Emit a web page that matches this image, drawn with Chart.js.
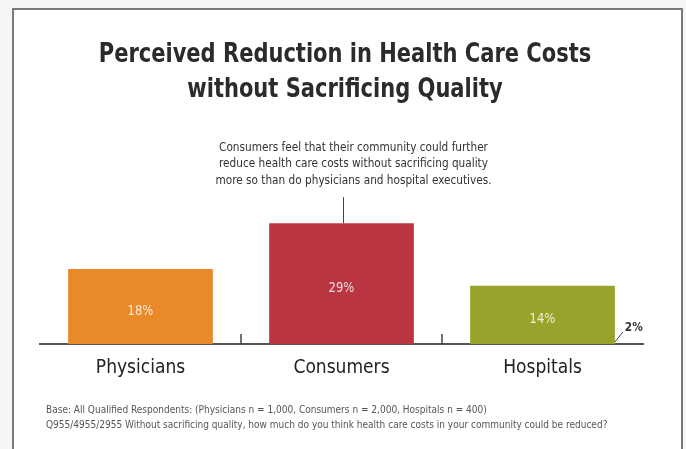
<!DOCTYPE html>
<html>
<head>
<meta charset="utf-8">
<title>Perceived Reduction in Health Care Costs</title>
<script src="https://cdn.jsdelivr.net/npm/chart.js@4.4.1/dist/chart.umd.min.js"></script>
<style>
    html, body { margin: 0; padding: 0; }
    body {
        width: 686px;
        height: 449px;
        position: relative;
        overflow: hidden;
        background: #f6f6f6;
        font-family: "DejaVu Sans Condensed", "DejaVu Sans", sans-serif;
    }
    .frame {
        position: absolute;
        left: 12px;
        top: 8px;
        width: 667px;
        height: 470px;
        background: #fff;
        border: 2px solid #7a7a7a;
    }
    #chart { position: absolute; left: 0; top: 0; }
    h1 {
        position: absolute;
        left: 0;
        top: 35px;
        width: 690px;
        margin: 0;
        text-align: center;
        font-size: 27px;
        line-height: 35px;
        font-weight: bold;
        color: #2b2b2b;
        transform: scaleX(0.865);
        transform-origin: 345px 0;
    }
    .notes {
        position: absolute;
        left: 46px;
        top: 402px;
        font-size: 11px;
        line-height: 15px;
        color: #555;
        white-space: nowrap;
        transform: scaleX(0.91);
        transform-origin: 0 0;
    }
</style>
</head>
<body>
<div class="frame"></div>
<canvas id="chart" width="686" height="449"></canvas>
<h1>Perceived Reduction in Health Care Costs<br>without Sacrificing Quality</h1>
<div class="notes">
    Base: All Qualified Respondents: (Physicians n = 1,000, Consumers n = 2,000, Hospitals n = 400)<br>
    Q955/4955/2955 Without sacrificing quality, how much do you think health care costs in your community could be reduced?
</div>
<script>
const categories = ['Physicians', 'Consumers', 'Hospitals'];
const reduction = [18, 29, 14];
const barColors = ['#e8892a', '#b93542', '#97a32a'];
const yRange = [0, 30];

const calloutLines = [
    'Consumers feel that their community could further',
    'reduce health care costs without sacrificing quality',
    'more so than do physicians and hospital executives.'
];
const hospitalRemainder = 2;

const FONT = '"DejaVu Sans Condensed", "DejaVu Sans", sans-serif';

// text squeezed a little horizontally, to look like a narrow face
function narrowText(ctx, text, x, y, sx) {
    ctx.save();
    ctx.translate(x, y);
    ctx.scale(sx, 1);
    ctx.fillText(text, 0, 0);
    ctx.restore();
}

// percent labels, separators, callout and the small remainder note
const decorations = {
    id: 'decorations',
    afterDatasetsDraw(chart) {
        const ctx = chart.ctx;
        const bars = chart.getDatasetMeta(0).data;
        const x = chart.scales.x;
        const base = chart.chartArea.bottom;

        ctx.save();
        ctx.textAlign = 'center';
        ctx.textBaseline = 'middle';
        ctx.font = '14px ' + FONT;
        ctx.fillStyle = 'rgba(255, 255, 255, 0.82)';
        bars.forEach((bar, i) => {
            narrowText(ctx, reduction[i] + '%', bar.x, (bar.y + bar.base) / 2 + 5, 0.92);
        });

        // small ticks between categories
        ctx.strokeStyle = '#444';
        ctx.lineWidth = 1.5;
        for (let i = 0; i < categories.length - 1; i++) {
            const mid = (x.getPixelForValue(i) + x.getPixelForValue(i + 1)) / 2;
            ctx.beginPath();
            ctx.moveTo(mid, base);
            ctx.lineTo(mid, base - 10);
            ctx.stroke();
        }

        // callout above the consumers bar
        const top = bars[1];
        const leaderTop = top.y - 26;
        ctx.lineWidth = 1;
        ctx.beginPath();
        ctx.moveTo(top.x + 2, top.y);
        ctx.lineTo(top.x + 2, leaderTop);
        ctx.stroke();

        ctx.font = '13px ' + FONT;
        ctx.fillStyle = '#333';
        calloutLines.forEach((line, i) => {
            narrowText(ctx, line, top.x + 12, leaderTop - 50 + i * 16.5, 0.9);
        });

        // remainder note next to hospitals
        const h = bars[2];
        const right = h.x + h.width / 2;
        ctx.beginPath();
        ctx.moveTo(right, base - 2);
        ctx.lineTo(right + 8, base - 12);
        ctx.stroke();
        ctx.textAlign = 'left';
        ctx.font = 'bold 13px ' + FONT;
        narrowText(ctx, hospitalRemainder + '%', right + 10, base - 16, 0.9);
        ctx.restore();
    }
};

new Chart(document.getElementById('chart'), {
    type: 'bar',
    data: {
        labels: categories,
        datasets: [{
            data: reduction,
            backgroundColor: barColors,
            borderWidth: 0,
            categoryPercentage: 1,
            barPercentage: 0.72
        }]
    },
    options: {
        responsive: false,
        animation: false,
        events: [],
        layout: { padding: { top: 219, left: 40, right: 43, bottom: 0 } },
        plugins: {
            legend: { display: false },
            tooltip: { enabled: false }
        },
        scales: {
            x: {
                grid: { display: false, drawTicks: false },
                border: { display: true, color: '#555', width: 2 },
                ticks: {
                    color: '#222',
                    padding: 13,
                    font: { family: FONT, size: 19 }
                },
                afterFit(scale) { scale.height = 105; }
            },
            y: {
                display: false,
                min: yRange[0],
                max: yRange[1]
            }
        }
    },
    plugins: [decorations]
});
</script>
</body>
</html>
